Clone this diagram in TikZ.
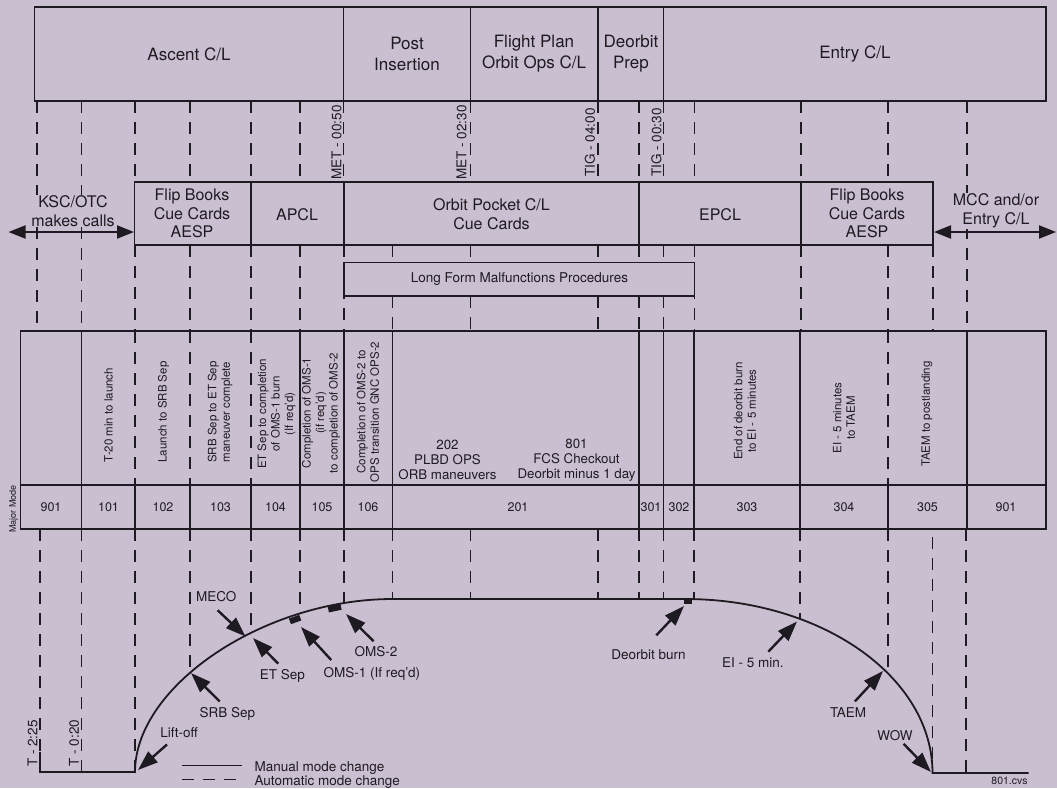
\documentclass[tikz,border=0pt]{standalone}
\usepackage{fontspec}
\setmainfont{TeX Gyre Heros}
\usepackage{tikz}
\usetikzlibrary{arrows.meta}
\definecolor{paper}{HTML}{CABFD0}
\definecolor{ink}{HTML}{1E1A22}

\begin{document}
\begin{tikzpicture}[x=1pt, y=-1pt]
    \tikzstyle{box} = [draw=ink, line width=1.7pt];
    \tikzstyle{dsh} = [draw=ink, line width=1.2pt, dash pattern=on 12pt off 9pt];
    \tikzstyle{sol} = [draw=ink, line width=1.2pt];
    \tikzstyle{hdr} = [text=ink, align=center, font=\fontsize{17}{21}\selectfont];
    \tikzstyle{src} = [text=ink, align=center, font=\fontsize{16}{18.6}\selectfont];
    \tikzstyle{phase} = [text=ink, align=center, rotate=90, font=\fontsize{11.5}{13.5}\selectfont];
    \tikzstyle{opsx} = [text=ink, align=center, font=\fontsize{13.3}{15.2}\selectfont];
    \tikzstyle{modeno} = [text=ink, font=\fontsize{12.5}{15}\selectfont];
    \tikzstyle{evt} = [text=ink, font=\fontsize{13.5}{16}\selectfont];
    \tikzstyle{clock} = [text=ink, rotate=90, font=\fontsize{13.5}{16}\selectfont];
    \tikzstyle{hit} = [draw=ink, line width=2.4pt, -{Triangle[length=20pt, width=14pt]}];
    \tikzstyle{reach} = [draw=ink, line width=2pt, {Triangle[length=17pt, width=13pt]}-{Triangle[length=17pt, width=13pt]}];
    \tikzstyle{burn} = [fill=ink, inner sep=0pt];

    \fill[paper] (0,0) rectangle (1057,788);
    \useasboundingbox (0,0) rectangle (1057,788);

    % timeline marks between the rows
    \begin{scope}[dsh]
      \draw (37,101) -- (37,331);
      \draw (81.5,101) -- (81.5,331);
      \draw (135,101) -- (135,182);
      \draw (190,101) -- (190,182);
      \draw (251,101) -- (251,182);
      \draw (300,101) -- (300,182);
      \draw (343.5,101) -- (343.5,182);
      \draw (470.5,101) -- (470.5,182);
      \draw (598,101) -- (598,182);
      \draw (639,101) -- (639,182);
      \draw (663.5,101) -- (663.5,182);
      \draw (694.5,101) -- (694.5,182);
      \draw (801,101) -- (801,182);
      \draw (888,101) -- (888,182);
      \draw (967,101) -- (967,331);

      \draw (135,245) -- (135,331);
      \draw (190,245) -- (190,331);
      \draw (251,245) -- (251,331);
      \draw (300,245) -- (300,331);
      \draw (344,245) -- (344,331);
      \draw (392.5,245) -- (392.5,262.5);
      \draw (392.5,296) -- (392.5,331);
      \draw (470.5,245) -- (470.5,262.5);
      \draw (470.5,296) -- (470.5,331);
      \draw (598,245) -- (598,262.5);
      \draw (598,296) -- (598,331);
      \draw (639,245) -- (639,262.5);
      \draw (639,296) -- (639,331);
      \draw (663.5,245) -- (663.5,262.5);
      \draw (663.5,296) -- (663.5,331);
      \draw (694.5,245) -- (694.5,331);
      \draw (801,245) -- (801,331);
      \draw (888,245) -- (888,331);
      \draw (933,245) -- (933,331);

      \draw (135,331) -- (135,485);
      \draw (190,331) -- (190,485);
      \draw (251,331) -- (251,485);
      \draw (888,331) -- (888,485);

      \draw (40,529) -- (40,752);
      \draw (81.5,529) -- (81.5,772);
      \draw (135,529) -- (135,772);
      \draw (190,529) -- (190,673.5);
      \draw (251,529) -- (251,634);
      \draw (300,529) -- (300,613.5);
      \draw (344,529) -- (344,603.5);
      \draw (392.5,529) -- (392.5,599);
      \draw (470.5,529) -- (470.5,599);
      \draw (598,529) -- (598,599);
      \draw (639,529) -- (639,599);
      \draw (663.5,529) -- (663.5,599);
      \draw (694,529) -- (694,599);
      \draw (800,529) -- (800,619);
      \draw (888,529) -- (888,673.5);
      \draw (932.5,537) -- (932.5,773);
      \draw (966,529) -- (966,773);
    \end{scope}

    \begin{scope}[sol]
      \draw (81.5,331) -- (81.5,529);
      \draw (300,331) -- (300,529);
      \draw (344,331) -- (344,529);
      \draw (392.5,331) -- (392.5,529);
      \draw (639,331) -- (639,529);
      \draw (663.5,331) -- (663.5,529);
      \draw (694,331) -- (694,529);
      \draw (800,331) -- (800,529);
      \draw (967,331) -- (967,529);
      \draw (135,485) -- (135,529);
      \draw (190,485) -- (190,529);
      \draw (251,485) -- (251,529);
      \draw (888,485) -- (888,529);
    \end{scope}

    \begin{scope}[box]
      \draw (34.5,7) rectangle (1046,101);
      \draw (343.5,7) -- (343.5,101);
      \draw (470.5,7) -- (470.5,101);
      \draw (598,7) -- (598,101);
      \draw (663.5,7) -- (663.5,101);

      \draw (134.5,182) rectangle (933,245);
      \draw (251,182) -- (251,245);
      \draw (344,182) -- (344,245);
      \draw (639,182) -- (639,245);
      \draw (801,182) -- (801,245);

      \draw (344,262.5) rectangle (694.5,296);

      \draw (20.5,331) rectangle (1046,529);
      \draw (20.5,485) -- (1046,485);
    \end{scope}

    \node[hdr] (ascent)  at (189, 54) {Ascent C/L};
    \node[hdr] (postins) at (407, 54) {Post\\Insertion};
    \node[hdr] (fltplan) at (534, 54) {Flight Plan\\Orbit Ops C/L};
    \node[hdr] (deoprep) at (631, 54) {Deorbit\\Prep};
    \node[hdr] (entry)   at (855, 54) {Entry C/L};

    \node[clock] (met050) at (336.5, 142.5) {MET - 00:50};
    \node[clock] (met230) at (461.5, 142.5) {MET - 02:30};
    \node[clock] (tig400) at (590, 142.5) {TIG - 04:00};
    \node[clock] (tig030) at (656.5, 142.5) {TIG - 00:30};

    \node[src, fill=paper, inner sep=1pt] (kscotc) at (73, 211) {KSC/OTC\\makes calls};
    \node[src] (flip1)   at (192, 213.5) {Flip Books\\Cue Cards\\AESP};
    \node[src] (apcl)    at (297, 215) {APCL};
    \node[src] (orbpock) at (491.5, 214) {Orbit Pocket C/L\\Cue Cards};
    \node[src] (epcl)    at (720, 215) {EPCL};
    \node[src] (flip2)   at (867, 213.5) {Flip Books\\Cue Cards\\AESP};
    \node[src, fill=paper, inner sep=1pt] (mccent) at (996, 211) {MCC and/or\\Entry C/L};

    \coordinate (kscW) at (8.5, 232);
    \coordinate (kscE) at (134, 232);
    \coordinate (mccW) at (934, 232);
    \coordinate (mccE) at (1056, 232);
    \draw[reach] (kscW) -- (kscE);
    \draw[reach] (mccW) -- (mccE);

    \node[text=ink, font=\fontsize{13.5}{16}\selectfont] (lfmp) at (519.5, 279) {Long Form Malfunctions Procedures};

    \node[phase] (ph101) at (108.5, 415) {T-20 min to launch};
    \node[phase] (ph102) at (163.5, 412) {Launch to SRB Sep};
    \node[phase] (ph103) at (220, 412) {SRB Sep to ET Sep\\maneuver complete};
    \node[phase] (ph104) at (276.5, 414) {ET Sep to completion\\of OMS-1 burn\\(If req'd)};
    \node[phase] (ph105) at (321, 413) {Completion of OMS-1\\(if req'd)\\to completion of OMS-2};
    \node[phase] (ph106) at (368, 412) {Completion of OMS-2 to\\OPS transition GNC OPS-2};
    \node[opsx]  (ops202) at (447.5, 460) {202\\PLBD OPS\\ORB maneuvers};
    \node[opsx]  (ops801) at (576.5, 460) {801\\FCS Checkout\\Deorbit minus 1 day};
    \node[phase] (ph303) at (745, 411) {End of deorbit burn\\to EI - 5 minutes};
    \node[phase] (ph304) at (844, 418) {EI - 5 minutes\\to TAEM};
    \node[phase] (ph305) at (927, 414) {TAEM to postlanding};

    \node[text=ink, rotate=90, font=\fontsize{9}{10}\selectfont] (majmode) at (13.5, 509) {Major Mode};
    \node[modeno] (m901a) at (51, 507)    {901};
    \node[modeno] (m101)  at (108.5, 507) {101};
    \node[modeno] (m102)  at (163, 507)   {102};
    \node[modeno] (m103)  at (220.5, 507) {103};
    \node[modeno] (m104)  at (275.5, 507) {104};
    \node[modeno] (m105)  at (322, 507)   {105};
    \node[modeno] (m106)  at (368, 507)   {106};
    \node[modeno] (m201)  at (518, 507)   {201};
    \node[modeno] (m301)  at (651, 507)   {301};
    \node[modeno] (m302)  at (679, 507)   {302};
    \node[modeno] (m303)  at (747, 507)   {303};
    \node[modeno] (m304)  at (844, 507)   {304};
    \node[modeno] (m305)  at (927.5, 507) {305};
    \node[modeno] (m901b) at (1006, 507)  {901};

    % flight profile
    \draw[ink, line width=1.8pt] (40,752) -- (40,772) -- (135,772)
      .. controls (135,685.5) and (264.8,599) .. (392.5,599) -- (685,599)
      .. controls (821.7,599) and (932.5,676.9) .. (932.5,773) -- (1028.5,773);
    \node[burn, minimum width=11pt, minimum height=6pt, rotate=20, anchor=north] (oms1mk) at (294, 616.5) {};
    \node[burn, minimum width=13pt, minimum height=6pt, rotate=12, anchor=north] (oms2mk) at (334, 605) {};
    \node[burn, minimum width=8pt, minimum height=5pt, anchor=north] (deomk) at (688, 599) {};

    \node[clock] (t225) at (32.5, 743.5) {T - 2:25};
    \node[clock] (t020) at (74, 743) {T - 0:20};

    \node[evt] (meco)    at (216.3, 596.4) {MECO};
    \node[evt] (etsep)   at (282.4, 676.3) {ET Sep};
    \node[evt] (srbsep)  at (227.3, 714.2) {SRB Sep};
    \node[evt] (liftoff) at (179.1, 733.1) {Lift-off};
    \node[evt] (oms1)    at (371.9, 673.9) {OMS-1 (If req'd)};
    \node[evt] (oms2)    at (376, 651.5)   {OMS-2};
    \node[evt] (deoburn) at (648.4, 654.8) {Deorbit burn};
    \node[evt] (eifive)  at (752.9, 662.7) {EI - 5 min.};
    \node[evt] (taem)    at (848.1, 713)   {TAEM};
    \node[evt] (wow)     at (895, 735.6)   {WOW};

    \coordinate (mecoA) at (217.6, 610.2);  \coordinate (mecoB) at (245.5, 636.5);
    \coordinate (etA)   at (278.2, 663.6);  \coordinate (etB)   at (253, 638);
    \coordinate (srbA)  at (219.7, 701.4);  \coordinate (srbB)  at (191, 673);
    \coordinate (liftA) at (167, 744.5);    \coordinate (liftB) at (138, 770);
    \coordinate (oms1A) at (331.3, 660.1);  \coordinate (oms1B) at (301, 627);
    \coordinate (oms2A) at (373.6, 641.2);  \coordinate (oms2B) at (346, 614);
    \coordinate (deoA)  at (656.3, 635.3);  \coordinate (deoB)  at (684, 606);
    \coordinate (eiA)   at (768.3, 651.7);  \coordinate (eiB)   at (797, 621.5);
    \coordinate (taemA) at (854.9, 701.4);  \coordinate (taemB) at (883, 671);
    \coordinate (wowA)  at (903.6, 743.8);  \coordinate (wowB)  at (931, 772);

    \begin{scope}
      \draw[hit] (mecoA) -- (mecoB);
      \draw[hit] (etA) -- (etB);
      \draw[hit] (srbA) -- (srbB);
      \draw[hit] (liftA) -- (liftB);
      \draw[hit] (oms1A) -- (oms1B);
      \draw[hit] (oms2A) -- (oms2B);
      \draw[hit] (deoA) -- (deoB);
      \draw[hit] (eiA) -- (eiB);
      \draw[hit] (taemA) -- (taemB);
      \draw[hit] (wowA) -- (wowB);
    \end{scope}

    \coordinate (manA) at (182, 765.5);  \coordinate (manB) at (242, 765.5);
    \coordinate (autA) at (182, 779.5);  \coordinate (autB) at (242, 779.5);
    \draw[ink, line width=1.3pt] (manA) -- (manB);
    \draw[dsh] (autA) -- (autB);
    \node[evt, anchor=west] (manual)    at (251, 768.5) {Manual mode change};
    \node[evt, anchor=west] (automatic) at (251, 782.5) {Automatic mode change};
    \node[text=ink, font=\fontsize{10.5}{12}\selectfont] (fileid) at (1009.5, 780.5) {801.cvs};
\end{tikzpicture}
\end{document}
